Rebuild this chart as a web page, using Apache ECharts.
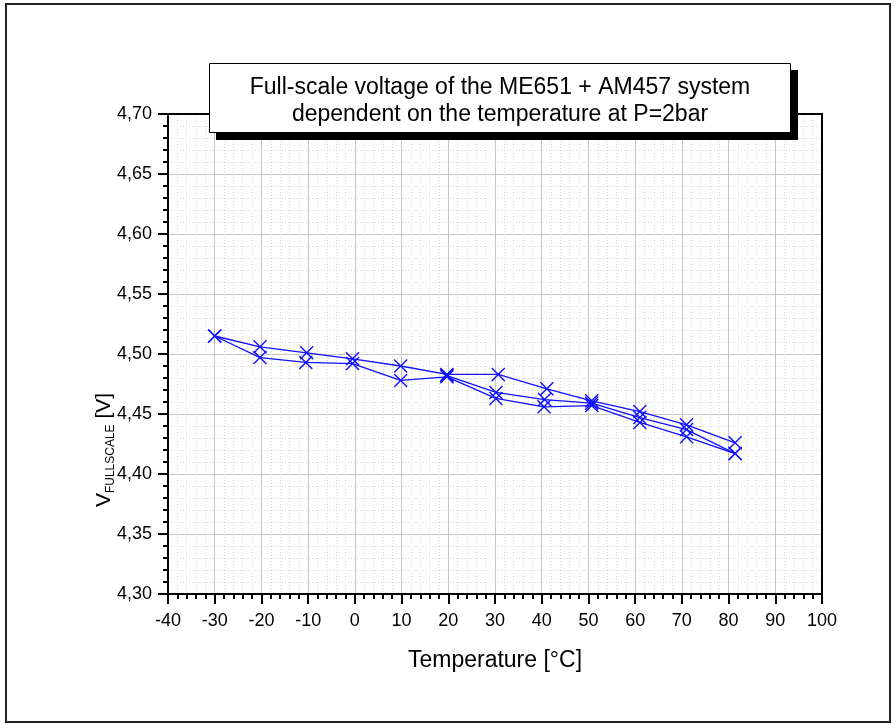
<!DOCTYPE html>
<html>
<head>
<meta charset="utf-8">
<script src="https://cdn.jsdelivr.net/npm/echarts@6/dist/echarts.min.js"></script>
<style>
  html, body { margin: 0; padding: 0; background: #fff; }
  #chart { width: 896px; height: 728px; }
</style>
</head>
<body>
<div id="chart"></div>
<script>
// measured points (temperature in °C, full-scale voltage in V)
const tempA = [-30, -20.3, -10.3, -0.5, 9.8, 19.7, 30.7, 41.1, 50.7, 61, 71, 81.4]
const voltA = [4.515, 4.506, 4.501, 4.496, 4.490, 4.483, 4.483, 4.471, 4.461, 4.452, 4.441, 4.426]

const tempB = [-30, -20.3, -10.5, -0.5, 9.8, 19.7, 30.2, 40.5, 50.7, 61, 71, 81.4]
const voltB = [4.515, 4.497, 4.493, 4.492, 4.478, 4.481, 4.463, 4.456, 4.457, 4.443, 4.431, 4.417]

const tempC = [19.7, 30.2, 40.6, 50.7, 61, 71, 81.4]
const voltC = [4.482, 4.468, 4.462, 4.459, 4.447, 4.437, 4.417]

const xTicks = { min: -40, max: 100, step: 10 }
const yTicks = { min: 4.30, max: 4.70, step: 0.05 }

const titleLines = ['Full-scale voltage of the ME651 + AM457 system', 'dependent on the temperature at P=2bar']
const xName = 'Temperature [°C]'

const FONT = 'Arial, "Liberation Sans", sans-serif'
const BLUE = '#1010ff'

const pairs = (xs, ys) => xs.map((x, i) => [x, ys[i]])

const makeSeries = (xs, ys) => ({
  type: 'line',
  data: pairs(xs, ys),
  symbol: 'path://M0,0L10,10M10,0L0,10',
  symbolSize: 13,
  showAllSymbol: true,
  lineStyle: { color: BLUE, width: 1.3 },
  itemStyle: { color: 'rgba(0,0,0,0)', borderColor: BLUE, borderWidth: 1.4 },
  emphasis: { disabled: true },
  animation: false,
  z: 5
})

const chart = echarts.init(document.getElementById('chart'), null, { renderer: 'canvas' })

const mainAxisLine = { show: true, onZero: false, lineStyle: { color: '#000', width: 2 } }
const minorGrid = { show: true, lineStyle: { color: '#d6d6d6', width: 1, type: [1, 2] } }

const option = {
  backgroundColor: '#fff',
  animation: false,
  grid: { left: 168, right: 74, top: 114, bottom: 134 },
  xAxis: [{
    type: 'value',
    min: xTicks.min,
    max: xTicks.max,
    interval: xTicks.step,
    name: xName,
    nameLocation: 'middle',
    nameGap: 55,
    nameTextStyle: { color: '#000', fontSize: 23, fontFamily: FONT },
    axisLine: mainAxisLine,
    axisTick: { show: true, length: 10, lineStyle: { color: '#000', width: 2 } },
    minorTick: { show: true, splitNumber: 5, length: 5, lineStyle: { color: '#000', width: 2 } },
    axisLabel: { color: '#000', fontSize: 18, fontFamily: FONT, margin: 18 },
    splitLine: { show: true, lineStyle: { color: '#c6c6c6', width: 1 } },
    minorSplitLine: minorGrid
  }, {
    type: 'value',
    position: 'top',
    min: xTicks.min,
    max: xTicks.max,
    interval: xTicks.step,
    axisLine: mainAxisLine,
    axisTick: { show: false },
    axisLabel: { show: false },
    splitLine: { show: false }
  }],
  yAxis: [{
    type: 'value',
    min: yTicks.min,
    max: yTicks.max,
    interval: yTicks.step,
    axisLine: mainAxisLine,
    axisTick: { show: true, length: 10, lineStyle: { color: '#000', width: 2 } },
    minorTick: { show: true, splitNumber: 5, length: 5, lineStyle: { color: '#000', width: 2 } },
    axisLabel: {
      color: '#000', fontSize: 18, fontFamily: FONT, margin: 16,
      formatter: v => v.toFixed(2).replace('.', ',')
    },
    splitLine: { show: true, lineStyle: { color: '#c6c6c6', width: 1 } },
    minorSplitLine: minorGrid
  }, {
    type: 'value',
    position: 'right',
    min: yTicks.min,
    max: yTicks.max,
    interval: yTicks.step,
    axisLine: mainAxisLine,
    axisTick: { show: false },
    axisLabel: { show: false },
    splitLine: { show: false }
  }],
  series: [
    makeSeries(tempA, voltA),
    makeSeries(tempB, voltB),
    makeSeries(tempC, voltC)
  ],
  graphic: [
    // outer frame
    {
      type: 'rect', z: 100, silent: true,
      shape: { x: 6, y: 4, width: 884, height: 718 },
      style: { fill: 'none', stroke: '#222', lineWidth: 2 }
    },
    // title box shadow + box + text
    {
      type: 'rect', z: 100, silent: true,
      shape: { x: 216, y: 70, width: 582, height: 70 },
      style: { fill: '#000' }
    },
    {
      type: 'rect', z: 101, silent: true,
      shape: { x: 209.5, y: 63.5, width: 581, height: 69 },
      style: { fill: '#fff', stroke: '#000', lineWidth: 1 }
    },
    {
      type: 'text', z: 102, silent: true,
      x: 500, y: 101,
      style: {
        text: titleLines.join('\n'),
        font: '23px ' + FONT,
        fill: '#000',
        align: 'center',
        verticalAlign: 'middle',
        lineHeight: 27
      }
    },
    // y axis title with subscript
    {
      type: 'text', z: 102, silent: true,
      x: 104, y: 450,
      rotation: Math.PI / 2,
      style: {
        text: '{v|V}{s|FULLSCALE}{v| [V]}',
        align: 'center',
        verticalAlign: 'middle',
        rich: {
          v: { fontSize: 21, fontFamily: FONT, fill: '#000', lineHeight: 25 },
          s: { fontSize: 12, fontFamily: FONT, fill: '#000', lineHeight: 25, verticalAlign: 'bottom' }
        }
      }
    }
  ]
}

chart.setOption(option)

window.addEventListener('resize', () => {
  chart.resize()
})
</script>
</body>
</html>
